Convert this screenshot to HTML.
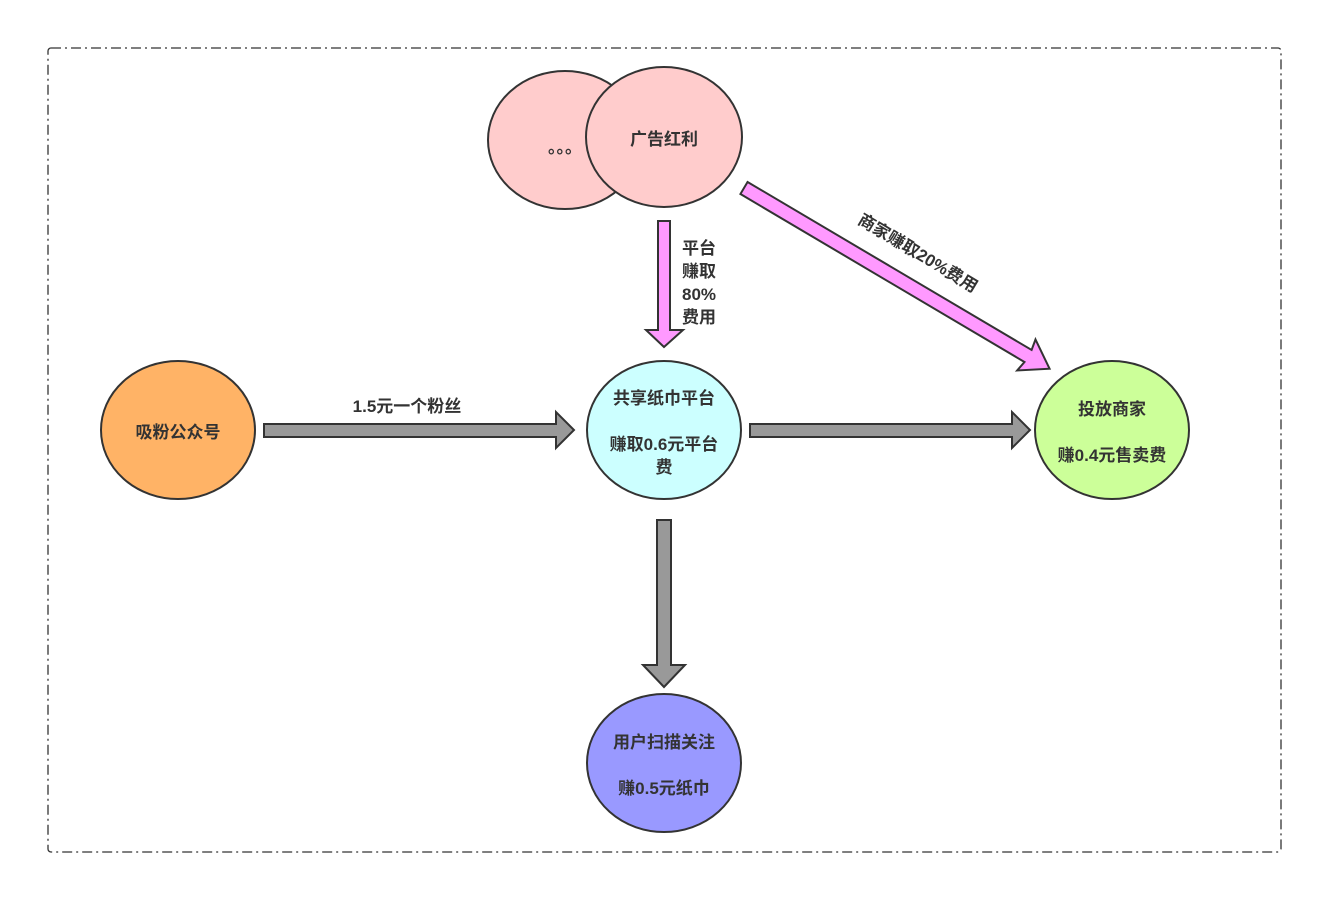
<!DOCTYPE html>
<html><head><meta charset="utf-8"><style>
html,body{margin:0;padding:0;background:#fff}
svg{display:block}
text{font-family:"Liberation Sans","Noto Sans CJK SC",sans-serif;font-weight:bold;font-size:17px;fill:#333;text-anchor:middle}
</style></head><body>
<svg width="1343" height="914" viewBox="0 0 1343 914">
<rect x="48" y="48" width="1233" height="804" rx="3" fill="none" stroke="#333" stroke-width="1.3" stroke-dasharray="10,4,2,4"/>
<g stroke="#333" stroke-width="2">
<ellipse cx="565" cy="140" rx="77" ry="69" fill="#ffcccc"/>
<ellipse cx="664" cy="137" rx="78" ry="70" fill="#ffcccc"/>
<ellipse cx="178" cy="430" rx="77" ry="69" fill="#ffb366"/>
<ellipse cx="664" cy="430" rx="77" ry="69" fill="#ccffff"/>
<ellipse cx="1112" cy="430" rx="77" ry="69" fill="#ccff99"/>
<ellipse cx="664" cy="763" rx="77" ry="69" fill="#9999ff"/>
<polygon points="264,424 556,424 556,412 574,430 556,448 556,437 264,437" fill="#999"/>
<polygon points="750,424 1012,424 1012,412 1030,430 1012,448 1012,437 750,437" fill="#999"/>
<polygon points="657,520 671,520 671,665 685,665 664,687 643,665 657,665" fill="#999"/>
<polygon points="658,221 670,221 670,330 683,330 664,347 646,330 658,330" fill="#ff99ff"/>
<g transform="translate(744,188) rotate(30.6)">
<polygon points="0,-7 330,-7 328,-18 355,0 328,18 330,7 0,7" fill="#ff99ff"/>
</g>
</g>
<text x="565" y="153" font-size="14">。。。</text>
<text x="664" y="145">广告红利</text>
<text x="178" y="438">吸粉公众号</text>
<text x="664" y="404">共享纸巾平台</text>
<text x="664" y="450">赚取0.6元平台</text>
<text x="664" y="473">费</text>
<text x="1112" y="415">投放商家</text>
<text x="1112" y="461">赚0.4元售卖费</text>
<text x="664" y="748">用户扫描关注</text>
<text x="664" y="794">赚0.5元纸巾</text>
<text x="407" y="412">1.5元一个粉丝</text>
<text x="699" y="254">平台</text>
<text x="699" y="277">赚取</text>
<text x="699" y="300">80%</text>
<text x="699" y="323">费用</text>
<text transform="translate(915,258) rotate(31)">商家赚取20%费用</text>
</svg>
</body></html>
